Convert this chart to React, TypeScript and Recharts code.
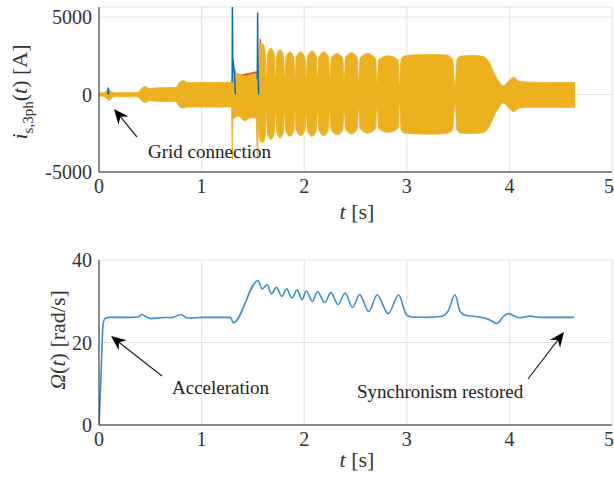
import React from 'react';
import { ComposedChart, Area, Line, XAxis, YAxis, CartesianGrid } from 'recharts';

// stator current envelope (the 3-phase signal is drawn as its min/max band)
const CUR_T = [
  0, 0.05, 0.08, 0.1, 0.12, 0.15, 0.38, 0.41, 0.45, 0.49, 0.55, 0.75, 0.78, 0.82, 0.86, 1.29,
  1.3, 1.305, 1.32, 1.36, 1.42, 1.48, 1.53, 1.545, 1.555,
  1.57, 1.6, 1.618, 1.63, 1.642, 1.675, 1.708, 1.72, 1.732, 1.765, 1.798, 1.81,
  1.822, 1.86, 1.898, 1.91, 1.922, 1.965, 2.008, 2.02, 2.032, 2.075, 2.118, 2.13,
  2.143, 2.19, 2.237, 2.25, 2.264, 2.32, 2.376, 2.39, 2.404, 2.46, 2.516, 2.53,
  2.545, 2.62, 2.695, 2.71, 2.726, 2.82, 2.914, 2.93, 2.945, 2.98, 3.1, 3.25, 3.38, 3.445, 3.47,
  3.49, 3.53, 3.65, 3.75, 3.8, 3.85, 3.9, 3.94, 3.99, 4.04, 4.1, 4.2, 4.4, 4.64,
];
const CUR_UP = [
  100, 120, 260, 300, 200, 120, 130, 350, 520, 380, 430, 460, 750, 900, 780, 790,
  1400, 1500, 1400, 1350, 1200, 1300, 1350, 1400, 2000,
  3300, 3250, 2800, 1000, 2600, 3000, 2600, 1000, 2500, 2900, 2500, 1000,
  2400, 2750, 2400, 1000, 2400, 2750, 2400, 1000, 2450, 2800, 2450, 1000,
  2400, 2750, 2400, 900, 2350, 2650, 2350, 900, 2400, 2700, 2400, 800,
  2350, 2650, 2350, 700, 2250, 2500, 2250, 500, 2300, 2500, 2560, 2580, 2550, 2300, 500,
  2300, 2480, 2520, 2450, 2100, 1400, 800, 550, 850, 1100, 850, 800, 780, 780,
];
const CUR_LO = [
  -100, -130, -300, -380, -250, -130, -140, -350, -520, -400, -440, -460, -750, -870, -800, -810,
  -4200, -1600, -1500, -1400, -1700, -1500, -1500, -4200, -2000,
  -3000, -3100, -2700, -1000, -2500, -2900, -2500, -1000, -2400, -2800, -2400, -1000,
  -2350, -2700, -2350, -1000, -2300, -2650, -2300, -1000, -2350, -2700, -2350, -1000,
  -2300, -2650, -2300, -900, -2300, -2600, -2300, -900, -2250, -2550, -2250, -800,
  -2200, -2500, -2200, -700, -2200, -2450, -2200, -500, -2300, -2500, -2540, -2560, -2520, -2300, -500,
  -2300, -2500, -2520, -2450, -2100, -1400, -800, -550, -850, -1100, -870, -830, -830, -830,
];

// phase a / phase b transients that stick out of the band (null = gap)
const BLUE_T = [0.085, 0.09, 0.095, 0.5, 1.298, 1.3, 1.303, 1.31, 1.32, 1.33, 1.45, 1.543, 1.546, 1.549, 1.556];
const BLUE_V = [0, 450, 0, null, 800, 5800, 2400, 2000, 1300, 0, null, 1000, 5300, 2000, 0];
const RED_T = [1.3, 1.305, 1.32, 1.34, 1.56, 1.572, 1.585];
const RED_UP = [800, 1700, 1650, 1200, 1500, 3600, 2500];
const RED_LO = [-600, -800, -900, -800, -1000, -1200, -1000];

// mechanical speed
const SPD_T = [
  0, 0.02, 0.04, 0.06, 0.1, 0.3, 0.38, 0.42, 0.46, 0.5, 0.6, 0.72, 0.8, 0.85, 0.9, 1.0, 1.28, 1.31,
  1.55, 1.59, 1.64, 1.68, 1.73, 1.78, 1.83, 1.88, 1.93, 1.98, 2.02, 2.08, 2.13, 2.2, 2.26, 2.33,
  2.4, 2.47, 2.54, 2.63, 2.71, 2.82, 2.92, 3.0, 3.05, 3.2, 3.33, 3.4, 3.47, 3.52, 3.57, 3.7, 3.8,
  3.88, 3.94, 3.99, 4.05, 4.1, 4.2, 4.3, 4.63,
];
const SPD_V = [
  0, 12, 24.5, 25.9, 26.1, 26.1, 26.2, 26.8, 26.2, 25.8, 26.0, 26.1, 26.8, 26.0, 25.9, 26.1, 26.1, 24.8,
  35, 33.0, 34.0, 31.8, 33.4, 31.2, 33.0, 30.8, 32.7, 30.4, 32.5, 30.0, 32.3, 29.7, 32.1, 29.2,
  32.0, 28.5, 31.6, 27.5, 31.5, 27.0, 31.5, 26.6, 26.2, 26.1, 26.3, 27.5, 31.5, 27.5, 26.6, 26.2, 25.6,
  24.6, 26.3, 27.0, 26.4, 26.0, 26.4, 26.1, 26.1,
];

const X_TICKS = [0, 1, 2, 3, 4, 5];
const CUR_TICKS = [-5000, 0, 5000];
const SPD_TICKS = [0, 20, 40];

const curData = CUR_T.map((t, i) => ({ t, range: [CUR_LO[i], CUR_UP[i]] }));
const blueData = BLUE_T.map((t, i) => ({ t, v: BLUE_V[i] }));
const redData = RED_T.map((t, i) => ({ t, range: [RED_LO[i], RED_UP[i]] }));
const spdData = SPD_T.map((t, i) => ({ t, v: SPD_V[i] }));

const FONT = 'Liberation Serif';
const INK = '#262626';
const tickStyle = { fill: '#333', fontSize: 20, fontFamily: FONT };

function Frame({ yTicks, yDomain }: { yTicks: number[]; yDomain: [number, number] }) {
  // four sides of the box, with MATLAB style inward ticks
  return [
    <CartesianGrid key="g" stroke="#e3e3e3" strokeWidth={1} />,
    <XAxis key="xb" dataKey="t" type="number" domain={[0, 5]} ticks={X_TICKS} allowDataOverflow
      axisLine={{ stroke: INK }} tickLine={false} tickSize={5} tickMargin={2} height={58} tick={tickStyle} />,
    <XAxis key="xbi" xAxisId="bin" dataKey="t" type="number" domain={[0, 5]} ticks={X_TICKS} mirror
      axisLine={false} tick={false} tickSize={5} height={0} tickLine={{ stroke: INK }} />,
    <XAxis key="xt" xAxisId="top" orientation="top" dataKey="t" type="number" domain={[0, 5]} ticks={X_TICKS} mirror
      axisLine={{ stroke: INK }} tick={false} tickSize={5} height={0} tickLine={{ stroke: INK }} />,
    <YAxis key="yl" type="number" domain={yDomain} ticks={yTicks} allowDataOverflow width={99}
      axisLine={{ stroke: INK }} tickLine={false} tickSize={5} tickMargin={2} tick={tickStyle} />,
    <YAxis key="yli" yAxisId="lin" type="number" domain={yDomain} ticks={yTicks} mirror width={0}
      axisLine={false} tick={false} tickSize={5} tickLine={{ stroke: INK }} />,
    <YAxis key="yr" yAxisId="right" orientation="right" type="number" domain={yDomain} ticks={yTicks} mirror width={0}
      axisLine={{ stroke: INK }} tick={false} tickSize={5} tickLine={{ stroke: INK }} />,
  ];
}

function Arrow({ x1, y1, x2, y2 }: { x1: number; y1: number; x2: number; y2: number }) {
  // tail (x1,y1) -> tip (x2,y2)
  const a = Math.atan2(y2 - y1, x2 - x1);
  const L = 15, W = 6.5, B = 10;
  const ux = Math.cos(a), uy = Math.sin(a);
  const px = -uy, py = ux;
  const bx = x2 - ux * L, by = y2 - uy * L;
  const nx = x2 - ux * B, ny = y2 - uy * B;
  const pts = `${x2},${y2} ${bx + px * W},${by + py * W} ${nx},${ny} ${bx - px * W},${by - py * W}`;
  return (
    <g>
      <line x1={x1} y1={y1} x2={nx} y2={ny} stroke="#222" strokeWidth={1.2} />
      <polygon points={pts} fill="#000" />
    </g>
  );
}

export default function App() {
  return (
    <div style={{ position: 'absolute', left: 0, top: 0, width: 614, height: 483, background: '#fff' }}>
      <div style={{ position: 'absolute', left: 0, top: 0 }}>
        <ComposedChart width={614} height={230} margin={{ top: 7, right: 2, left: 0, bottom: 0 }}>
          {Frame({ yTicks: CUR_TICKS, yDomain: [-5000, 5650] })}
          <Line data={blueData} dataKey="v" stroke="#0072BD" strokeWidth={1.5} dot={false} type="linear" connectNulls={false} isAnimationActive={false} />
          <Area data={redData} dataKey="range" stroke="#D95319" fill="#D95319" fillOpacity={1} strokeWidth={1} type="linear" isAnimationActive={false} />
          <Area data={curData} dataKey="range" stroke="#EDB120" fill="#EDB120" fillOpacity={1} strokeWidth={0.8} type="monotone" isAnimationActive={false} />
        </ComposedChart>
      </div>
      <div style={{ position: 'absolute', left: 0, top: 235 }}>
        <ComposedChart width={614} height={248} margin={{ top: 25, right: 2, left: 0, bottom: 0 }}>
          {Frame({ yTicks: SPD_TICKS, yDomain: [0, 40] })}
          <Line data={spdData} dataKey="v" stroke="#3a8fd0" strokeWidth={1.6} dot={false} type="monotone" isAnimationActive={false} />
        </ComposedChart>
      </div>
      <svg width={614} height={483} style={{ position: 'absolute', left: 0, top: 0, pointerEvents: 'none' }}
        fill="#333" fontFamily={FONT}>
        <text transform="translate(27,92) rotate(-90)" textAnchor="middle" fontSize={22}>
          <tspan fontStyle="italic">i</tspan>
          <tspan fontSize={15} dy={6}>s,3ph</tspan>
          <tspan dy={-6}>(</tspan>
          <tspan fontStyle="italic">t</tspan>
          <tspan>) [A]</tspan>
        </text>
        <text transform="translate(65,340) rotate(-90)" textAnchor="middle" fontSize={22}>
          <tspan fontStyle="italic">Ω</tspan>
          <tspan>(</tspan>
          <tspan fontStyle="italic">t</tspan>
          <tspan>) [rad/s]</tspan>
        </text>
        <text x={357} y={219} textAnchor="middle" fontSize={22}>
          <tspan fontStyle="italic">t</tspan> [s]
        </text>
        <text x={357} y={467} textAnchor="middle" fontSize={22}>
          <tspan fontStyle="italic">t</tspan> [s]
        </text>
        <text x={148} y={158} fontSize={19} fill="#222">Grid connection</text>
        <text x={172} y={394} fontSize={19} fill="#222">Acceleration</text>
        <text x={357} y={398} fontSize={19} fill="#222">Synchronism restored</text>
        <Arrow x1={137} y1={137} x2={114} y2={109} />
        <Arrow x1={162} y1={376} x2={111} y2={336} />
        <Arrow x1={528} y1={379} x2={564} y2={332} />
      </svg>
    </div>
  );
}
